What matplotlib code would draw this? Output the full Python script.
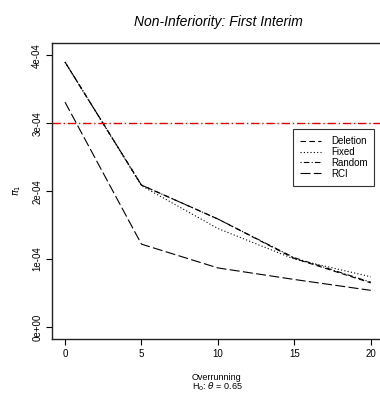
import matplotlib
matplotlib.use("Agg")
import matplotlib.pyplot as plt
from matplotlib.lines import Line2D

plt.rcParams['font.family'] = ['Liberation Sans', 'DejaVu Sans']

# overrunning values and pi_1 for each method
overrun = [0, 5, 10, 15, 20]
deletion = [3.90e-4, 2.09e-4, 1.59e-4, 1.01e-4, 0.65e-4]
fixed = [3.90e-4, 2.08e-4, 1.45e-4, 1.00e-4, 0.74e-4]
random_ = [3.90e-4, 2.09e-4, 1.59e-4, 1.02e-4, 0.66e-4]
rci = [3.31e-4, 1.22e-4, 0.87e-4, 0.70e-4, 0.54e-4]
alpha_line = 3e-4
yticks = [0, 1e-4, 2e-4, 3e-4, 4e-4]
ytick_labels = ['0e+00', '1e-04', '2e-04', '3e-04', '4e-04']

fig = plt.figure(figsize=(3.8, 3.96), dpi=100)
ax = fig.add_axes([52/380, 57/396, 331/380, 296/396])

lw = 0.8
ax.plot(overrun, deletion, color='black', lw=lw, linestyle=(0, (5, 3)))
ax.plot(overrun, fixed, color='black', lw=lw, linestyle=(0, (1, 2)))
ax.plot(overrun, random_, color='black', lw=lw, linestyle=(0, (1, 2, 5, 2)))
ax.plot(overrun, rci, color='black', lw=lw, linestyle=(0, (9, 3)))
ax.axhline(alpha_line, color='#e00000', lw=1.0, linestyle=(0, (6, 2, 1, 2)))

ax.set_xlim(-0.85, 20.8)
ax.set_ylim(-0.176e-4, 4.18e-4)
ax.set_xticks(overrun)
ax.set_yticks(yticks)
ax.set_yticklabels(ytick_labels, rotation=90, va='center')
ax.tick_params(labelsize=7, length=4, width=0.8, pad=3)
for s in ax.spines.values():
    s.set_linewidth(1.0)
    s.set_color('#222222')

fig.text(218/380, 1 - 22/396, 'Non-Inferiority: First Interim',
         ha='center', va='center', fontsize=10, style='italic')
fig.text(17/380, 1 - 190/396, r'$\pi_1$', ha='center', va='center',
         fontsize=7, rotation=90)
fig.text(217/380, 1 - 377/396, 'Overrunning', ha='center', va='center', fontsize=6.5)
fig.text(217/380, 1 - 387/396, r'H$_0$: $\theta$ = 0.65', ha='center', va='center', fontsize=6.5)

handles = [
    Line2D([], [], color='black', lw=lw, linestyle=(0, (5, 3))),
    Line2D([], [], color='black', lw=lw, linestyle=(0, (1, 2))),
    Line2D([], [], color='black', lw=lw, linestyle=(0, (1, 2, 5, 2))),
    Line2D([], [], color='black', lw=lw, linestyle=(0, (9, 3))),
]
leg = ax.legend(handles, ['Deletion', 'Fixed', 'Random', 'RCI'],
                loc='upper left', bbox_to_anchor=(0.728, 0.709),
                fontsize=7, frameon=True, fancybox=False,
                handlelength=2.2, handletextpad=1.0, labelspacing=0.1,
                borderpad=0.7, borderaxespad=0)
leg.get_frame().set_edgecolor('black')
leg.get_frame().set_linewidth(0.8)

fig.savefig('out.png', dpi=100)
